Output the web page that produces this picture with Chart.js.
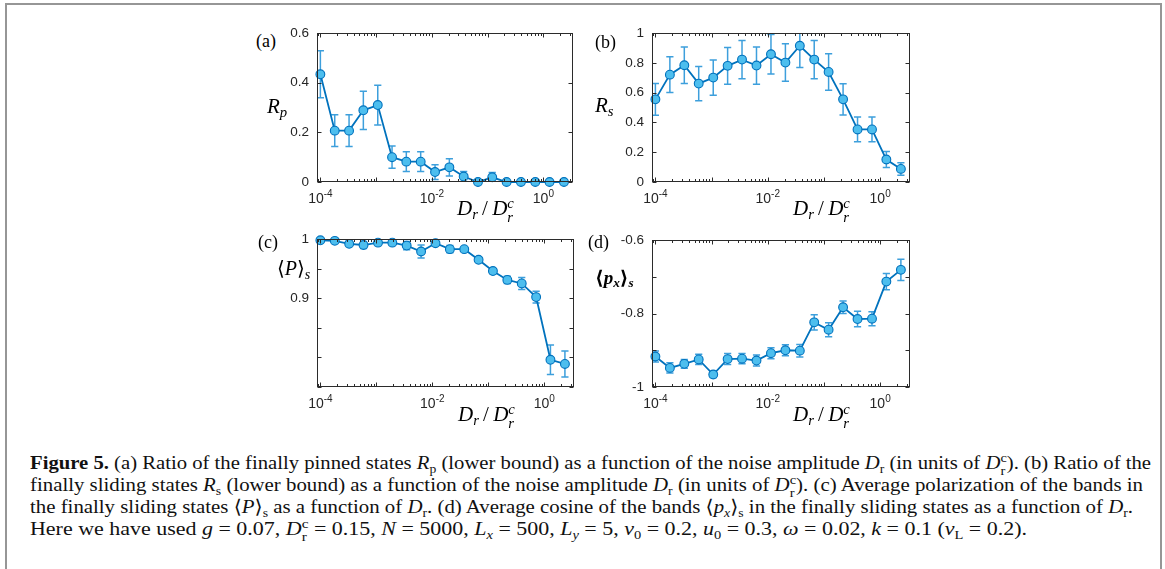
<!DOCTYPE html>
<html>
<head>
<meta charset="utf-8">
<script src="https://cdn.jsdelivr.net/npm/chart.js@4.4.1/dist/chart.umd.min.js"></script>
<style>
  html, body { margin: 0; padding: 0; background: #fff; width: 1165px; height: 569px; overflow: hidden; }
  #frame { position: absolute; left: 5px; top: 3px; width: 1153px; height: 620px; border: 2px solid #969696; }
  .plot { position: absolute; }
  .tex { position: absolute; font-family: "Liberation Serif", "DejaVu Serif", serif; color: #000; white-space: nowrap; line-height: 1; }
  .tex sub, .tex sup { font-size: 0.7em; line-height: 0; }
  .tex sub { vertical-align: -0.25em; }
  .tex sup { vertical-align: 0.55em; }
  .ss { display: inline-block; font-size: 0.7em; line-height: 0.95; vertical-align: -0.45em; text-align: left; }
  .ss span { display: block; }
  .cap { position: absolute; left: 30px; white-space: nowrap; transform-origin: 0 0;
         font-family: "Liberation Serif", "DejaVu Serif", serif; font-size: 19px; line-height: 22px; color: #111; }
  .cap sub, .cap sup { font-size: 0.66em; line-height: 0; }
  .cap sub { vertical-align: -0.3em; }
  .cap sup { vertical-align: 0.5em; }
</style>
</head>
<body>
<div id="frame"></div>

<div class="plot" id="wrapA"><canvas id="chartA" width="304" height="185"></canvas></div>
<div class="plot" id="wrapB"><canvas id="chartB" width="306" height="185"></canvas></div>
<div class="plot" id="wrapC"><canvas id="chartC" width="305" height="184"></canvas></div>
<div class="plot" id="wrapD"><canvas id="chartD" width="306" height="184"></canvas></div>

<!-- panel letters -->
<div class="tex" style="left:256px;top:32px;font-size:18px;">(a)</div>
<div class="tex" style="left:595px;top:33px;font-size:18px;">(b)</div>
<div class="tex" style="left:258px;top:233px;font-size:18px;">(c)</div>
<div class="tex" style="left:588px;top:233px;font-size:18px;">(d)</div>

<!-- y-axis titles -->
<div class="tex" style="left:267px;top:96px;font-size:21px;"><i>R<sub>p</sub></i></div>
<div class="tex" style="left:595px;top:95px;font-size:21px;"><i>R<sub>s</sub></i></div>
<div class="tex" style="left:277px;top:258px;font-size:20px;">⟨<i>P</i>⟩<sub><i>s</i></sub></div>
<div class="tex" style="left:595px;top:268px;font-size:19px;font-weight:bold;">⟨<i>p<sub>x</sub></i>⟩<sub><i>s</i></sub></div>

<!-- x-axis titles -->
<div class="tex" style="left:457px;top:197px;font-size:21px;"><i>D<sub>r</sub></i>&#8201;/&#8201;<i>D</i><span class="ss"><i><span>c</span><span>r</span></i></span></div>
<div class="tex" style="left:793px;top:197px;font-size:21px;"><i>D<sub>r</sub></i>&#8201;/&#8201;<i>D</i><span class="ss"><i><span>c</span><span>r</span></i></span></div>
<div class="tex" style="left:458px;top:403px;font-size:21px;"><i>D<sub>r</sub></i>&#8201;/&#8201;<i>D</i><span class="ss"><i><span>c</span><span>r</span></i></span></div>
<div class="tex" style="left:793px;top:403px;font-size:21px;"><i>D<sub>r</sub></i>&#8201;/&#8201;<i>D</i><span class="ss"><i><span>c</span><span>r</span></i></span></div>

<!-- caption -->
<div class="cap" data-w="1121" style="top:452px;"><b>Figure 5.</b> (a) Ratio of the finally pinned states <i>R</i><sub>p</sub> (lower bound) as a function of the noise amplitude <i>D</i><sub>r</sub> (in units of <i>D</i><span class="ss"><span>c</span><span>r</span></span>). (b) Ratio of the</div>
<div class="cap" data-w="1113" style="top:474px;">finally sliding states <i>R</i><sub>s</sub> (lower bound) as a function of the noise amplitude <i>D</i><sub>r</sub> (in units of <i>D</i><span class="ss"><span>c</span><span>r</span></span>). (c) Average polarization of the bands in</div>
<div class="cap" data-w="1103" style="top:496px;">the finally sliding states ⟨<i>P</i>⟩<sub>s</sub> as a function of <i>D</i><sub>r</sub>. (d) Average cosine of the bands ⟨<i>p<sub>x</sub></i>⟩<sub>s</sub> in the finally sliding states as a function of <i>D</i><sub>r</sub>.</div>
<div class="cap" data-w="997" style="top:518px;">Here we have used <i>g</i> = 0.07, <i>D</i><span class="ss"><span>c</span><span>r</span></span> = 0.15, <i>N</i> = 5000, <i>L<sub>x</sub></i> = 500, <i>L<sub>y</sub></i> = 5, <i>v</i><sub>0</sub> = 0.2, <i>u</i><sub>0</sub> = 0.3, <i>ω</i> = 0.02, <i>k</i> = 0.1 (<i>v</i><sub>L</sub> = 0.2).</div>

<script>
// Noise amplitude D_r / D_r^c for every simulation run
const noiseLevels = [1.0e-4, 1.81e-4, 3.27e-4, 5.90e-4, 1.07e-3, 1.93e-3, 3.48e-3, 6.30e-3, 1.14e-2,
                     2.06e-2, 3.72e-2, 6.71e-2, 0.121, 0.219, 0.396, 0.716, 1.29, 2.34];

// (a) ratio of finally pinned states
const pinnedRatio = [0.434, 0.207, 0.207, 0.289, 0.310, 0.100, 0.082, 0.082, 0.040,
                     0.059, 0.022, 0.000, 0.019, 0.000, 0.000, 0.000, 0.000, 0.000];
const pinnedErr   = [0.095, 0.064, 0.064, 0.077, 0.080, 0.045, 0.040, 0.040, 0.030,
                     0.035, 0.020, 0.000, 0.019, 0.000, 0.000, 0.000, 0.000, 0.000];

// (b) ratio of finally sliding states
const slidingRatio = [0.555, 0.721, 0.784, 0.661, 0.701, 0.780, 0.822, 0.782, 0.858,
                      0.802, 0.915, 0.822, 0.739, 0.555, 0.353, 0.353, 0.151, 0.088];
const slidingErr   = [0.107, 0.120, 0.123, 0.115, 0.118, 0.123, 0.128, 0.125, 0.133,
                      0.126, 0.146, 0.128, 0.122, 0.105, 0.083, 0.083, 0.054, 0.042];

// (c) mean polarization of the bands in sliding states
const polarization = [0.998, 0.997, 0.992, 0.990, 0.994, 0.994, 0.989, 0.979, 0.993,
                      0.983, 0.983, 0.965, 0.946, 0.931, 0.925, 0.902, 0.796, 0.789];
const polarizationErr = [0.002, 0.002, 0.003, 0.006, 0.003, 0.004, 0.007, 0.011, 0.004,
                         0.006, 0.003, 0.004, 0.004, 0.006, 0.010, 0.010, 0.025, 0.022];

// (d) mean cosine of the bands in sliding states
const meanCosine = [-0.917, -0.948, -0.937, -0.925, -0.966, -0.924, -0.923, -0.928, -0.908,
                    -0.900, -0.901, -0.824, -0.844, -0.783, -0.815, -0.814, -0.713, -0.681];
const meanCosineErr = [0.015, 0.014, 0.012, 0.014, 0.008, 0.015, 0.014, 0.015, 0.015,
                       0.015, 0.017, 0.021, 0.019, 0.017, 0.021, 0.019, 0.022, 0.029];

// Axis ranges and ticks
const xRange = [8.7e-5, 3.4];
const xTickValues = [1e-4, 1e-2, 1];
const xTickExponents = ['-4', '-2', '0'];
const yTicksA = [0, 0.2, 0.4, 0.6];
const yTickLabelsA = ['0', '0.2', '0.4', '0.6'];
const yTicksB = [0, 0.2, 0.4, 0.6, 0.8, 1];
const yTickLabelsB = ['0', '0.2', '0.4', '0.6', '0.8', '1'];
const yTicksC = [0.75, 0.8, 0.85, 0.9, 0.95, 1];
const yTickLabelsC = ['', '', '', '0.9', '', '1'];
const yTicksD = [-1, -0.9, -0.8, -0.7, -0.6];
const yTickLabelsD = ['-1', '', '-0.8', '', '-0.6'];

// Plot-area rectangles on the page: [left, top, right, bottom]
const areaA = [317, 33, 573, 182];
const areaB = [652, 33, 910, 182];
const areaC = [317, 239, 574, 387];
const areaD = [652, 240, 910, 387];

const AXIS_COLOR = '#2b2b2b';
const TEXT_COLOR = '#262626';
const LINE_COLOR = '#0072BD';
const FACE_COLOR = '#4DBEEE';
const ERR_COLOR = '#3d9fdc';
const TICK_FONT = '"Liberation Sans", Arial, sans-serif';

// Vertical error bars with caps, drawn beneath the line and markers
const errorBars = {
  id: 'errorBars',
  beforeDatasetsDraw(chart, args, opts) {
    const { ctx, chartArea: a, scales: { x, y } } = chart;
    const errs = opts.errors || [];
    const pts = chart.data.datasets[0].data;
    ctx.save();
    ctx.beginPath();
    ctx.rect(a.left, a.top, a.right - a.left, a.bottom - a.top);
    ctx.clip();
    ctx.strokeStyle = ERR_COLOR;
    ctx.lineWidth = 1.5;
    pts.forEach((p, i) => {
      const e = errs[i];
      if (!e) return;
      const px = x.getPixelForValue(p.x);
      const yt = y.getPixelForValue(p.y + e);
      const yb = y.getPixelForValue(p.y - e);
      ctx.beginPath();
      ctx.moveTo(px, yt); ctx.lineTo(px, yb);
      ctx.moveTo(px - 3.6, yt); ctx.lineTo(px + 3.6, yt);
      ctx.moveTo(px - 3.6, yb); ctx.lineTo(px + 3.6, yb);
      ctx.stroke();
    });
    ctx.restore();
  }
};

// Boxed axes with inward ticks on all four sides, log minor ticks on x,
// and power-of-ten labels under the decade ticks
const boxAxes = {
  id: 'boxAxes',
  afterDraw(chart, args, opts) {
    const { ctx, chartArea: a, scales: { x, y } } = chart;
    ctx.save();
    ctx.strokeStyle = AXIS_COLOR;
    ctx.lineWidth = 1;
    const L = Math.round(a.left) + 0.5, R = Math.round(a.right) - 0.5;
    const T = Math.round(a.top) + 0.5, B = Math.round(a.bottom) - 0.5;
    ctx.strokeRect(L, T, R - L, B - T);
    ctx.beginPath();
    (opts.yTicks || []).forEach(v => {
      const py = Math.round(y.getPixelForValue(v)) + 0.5;
      ctx.moveTo(L, py); ctx.lineTo(L + 4, py);
      ctx.moveTo(R, py); ctx.lineTo(R - 4, py);
    });
    for (let d = -5; d <= 1; d++) {
      for (let k = 1; k <= 9; k++) {
        const v = k * Math.pow(10, d);
        if (v < x.min || v > x.max) continue;
        const px = Math.round(x.getPixelForValue(v)) + 0.5;
        const len = k === 1 ? 4 : 2.5;
        ctx.moveTo(px, B); ctx.lineTo(px, B - len);
        ctx.moveTo(px, T); ctx.lineTo(px, T + len);
      }
    }
    ctx.stroke();

    // "10" with a raised exponent, centred on each labelled decade
    ctx.fillStyle = TEXT_COLOR;
    ctx.textBaseline = 'alphabetic';
    ctx.textAlign = 'left';
    xTickValues.forEach((v, i) => {
      const px = x.getPixelForValue(v);
      ctx.font = '14px ' + TICK_FONT;
      const wb = ctx.measureText('10').width;
      ctx.font = '10px ' + TICK_FONT;
      const we = ctx.measureText(xTickExponents[i]).width;
      const x0 = px - (wb + we) / 2;
      const base = B + 21;
      ctx.font = '14px ' + TICK_FONT;
      ctx.fillText('10', x0, base);
      ctx.font = '10px ' + TICK_FONT;
      ctx.fillText(xTickExponents[i], x0 + wb, base - 6);
    });
    ctx.restore();
  }
};

function makePanel(id, values, errors, yMin, yMax, yTicks, yLabels) {
  const ctx = document.getElementById(id);
  return new Chart(ctx, {
    type: 'line',
    data: {
      datasets: [{
        data: noiseLevels.map((v, i) => ({ x: v, y: values[i] })),
        borderColor: LINE_COLOR,
        borderWidth: 1.8,
        pointRadius: 4.4,
        pointBackgroundColor: FACE_COLOR,
        pointBorderColor: LINE_COLOR,
        pointBorderWidth: 1.1,
        tension: 0,
        clip: false
      }]
    },
    options: {
      responsive: false,
      maintainAspectRatio: false,
      animation: false,
      devicePixelRatio: 1,
      layout: { padding: { top: 8, right: 8, left: 0, bottom: 0 } },
      plugins: {
        legend: { display: false },
        tooltip: { enabled: false },
        errorBars: { errors },
        boxAxes: { yTicks }
      },
      scales: {
        x: {
          type: 'logarithmic',
          min: xRange[0], max: xRange[1],
          grid: { display: false, drawTicks: false },
          border: { display: false },
          afterBuildTicks: s => { s.ticks = xTickValues.map(v => ({ value: v })); },
          afterFit: s => { s.height = 28; },
          ticks: { display: false }
        },
        y: {
          type: 'linear',
          min: yMin, max: yMax,
          grid: { display: false, drawTicks: false },
          border: { display: false },
          afterBuildTicks: s => { s.ticks = yTicks.map(v => ({ value: v })); },
          afterFit: s => { s.width = 40; },
          ticks: {
            autoSkip: false, padding: 8,
            color: TEXT_COLOR, font: { family: TICK_FONT, size: 13.5 },
            callback: (v, i) => yLabels[i]
          }
        }
      }
    },
    plugins: [errorBars, boxAxes]
  });
}

// Size each canvas so the plot area lands exactly on its rectangle
function placeChart(chart, wrapId, area) {
  const [l, t, r, b] = area;
  for (let k = 0; k < 4; k++) {
    const a = chart.chartArea;
    const dw = (r - l) - (a.right - a.left);
    const dh = (b - t) - (a.bottom - a.top);
    if (Math.abs(dw) < 0.5 && Math.abs(dh) < 0.5) break;
    chart.resize(Math.round(chart.width + dw), Math.round(chart.height + dh));
  }
  const a = chart.chartArea;
  const wrap = document.getElementById(wrapId);
  wrap.style.left = Math.round(l - a.left) + 'px';
  wrap.style.top = Math.round(t - a.top) + 'px';
}

placeChart(makePanel('chartA', pinnedRatio, pinnedErr, 0, 0.6, yTicksA, yTickLabelsA), 'wrapA', areaA);
placeChart(makePanel('chartB', slidingRatio, slidingErr, 0, 1, yTicksB, yTickLabelsB), 'wrapB', areaB);
placeChart(makePanel('chartC', polarization, polarizationErr, 0.75, 1, yTicksC, yTickLabelsC), 'wrapC', areaC);
placeChart(makePanel('chartD', meanCosine, meanCosineErr, -1, -0.6, yTicksD, yTickLabelsD), 'wrapD', areaD);

// Fit each caption line to its column width
function fitCaption() {
  document.querySelectorAll('.cap').forEach(el => {
    el.style.transform = 'none';
    const w = el.getBoundingClientRect().width;
    el.style.transform = 'scaleX(' + (Number(el.dataset.w) / w) + ')';
  });
}
fitCaption();
if (document.fonts && document.fonts.ready) document.fonts.ready.then(fitCaption);
</script>
</body>
</html>
